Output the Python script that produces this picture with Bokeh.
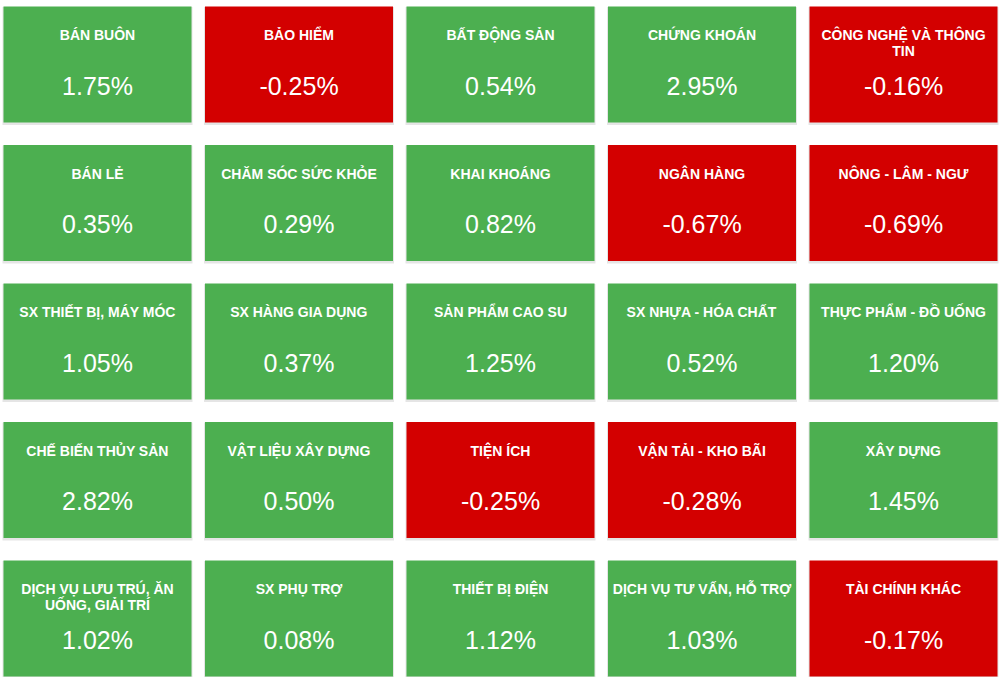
from bokeh.plotting import figure
from bokeh.models import ColumnDataSource, Range1d
from bokeh.core.properties import value
from bokeh.embed import file_html
from bokeh.resources import INLINE

sectors = [
    "BÁN BUÔN", "BẢO HIỂM", "BẤT ĐỘNG SẢN", "CHỨNG KHOÁN", "CÔNG NGHỆ VÀ THÔNG\nTIN",
    "BÁN LẺ", "CHĂM SÓC SỨC KHỎE", "KHAI KHOÁNG", "NGÂN HÀNG", "NÔNG - LÂM - NGƯ",
    "SX THIẾT BỊ, MÁY MÓC", "SX HÀNG GIA DỤNG", "SẢN PHẨM CAO SU", "SX NHỰA - HÓA CHẤT", "THỰC PHẨM - ĐỒ UỐNG",
    "CHẾ BIẾN THỦY SẢN", "VẬT LIỆU XÂY DỰNG", "TIỆN ÍCH", "VẬN TẢI - KHO BÃI", "XÂY DỰNG",
    "DỊCH VỤ LƯU TRÚ, ĂN\nUỐNG, GIẢI TRÍ", "SX PHỤ TRỢ", "THIẾT BỊ ĐIỆN", "DỊCH VỤ TƯ VẤN, HỖ TRỢ", "TÀI CHÍNH KHÁC",
]
changes = [
    1.75, -0.25, 0.54, 2.95, -0.16,
    0.35, 0.29, 0.82, -0.67, -0.69,
    1.05, 0.37, 1.25, 0.52, 1.20,
    2.82, 0.50, -0.25, -0.28, 1.45,
    1.02, 0.08, 1.12, 1.03, -0.17,
]
n_cols = 5

GREEN = "#4CAF50"
RED = "#D30000"

cols = [i % n_cols for i in range(len(sectors))]
rows = [i // n_cols for i in range(len(sectors))]

# layout constants (pixels)
px_x = 201.5   # column pitch
px_y = 138.5   # row pitch
tile_w = 188 / px_x
tile_h = 116 / px_y

src = ColumnDataSource(dict(
    col=cols,
    row=rows,
    shadow_row=[r + 1.5 / px_y for r in rows],
    title_row=[r - 37.5 / px_y for r in rows],
    value_row=[r + 21 / px_y for r in rows],
    name=sectors,
    label=[f"{v:.2f}%" for v in changes],
    color=[GREEN if v >= 0 else RED for v in changes],
))

W, H = 1000, 677
x0 = -97 / px_x
y0 = -64 / px_y
p = figure(width=W, height=H, output_backend="svg", toolbar_location=None,
           x_range=Range1d(x0, x0 + W / px_x),
           y_range=Range1d(y0 + H / px_y, y0),
           min_border=0, outline_line_color=None,
           background_fill_color="white", border_fill_color="white")
p.axis.visible = False
p.xgrid.visible = False
p.ygrid.visible = False

# soft shadow
p.rect(x="col", y="shadow_row", width=tile_w + 2 / px_x, height=tile_h + 2 / px_y,
       source=src, fill_color="#000000", fill_alpha=0.10, line_color=None)
p.rect(x="col", y="row", width=tile_w, height=tile_h, source=src,
       fill_color="color", line_color=None)

p.text(x="col", y="title_row", text="name", source=src,
       text_font=value("Liberation Sans"), text_font_style="bold",
       text_font_size="14px", text_color="white",
       text_align="center", text_baseline="top", text_line_height=1.02)
p.text(x="col", y="value_row", text="label", source=src,
       text_font=value("Liberation Sans"), text_font_size="25px",
       text_color="white", text_align="center", text_baseline="middle")

open("out.html", "w").write(file_html(p, INLINE))
